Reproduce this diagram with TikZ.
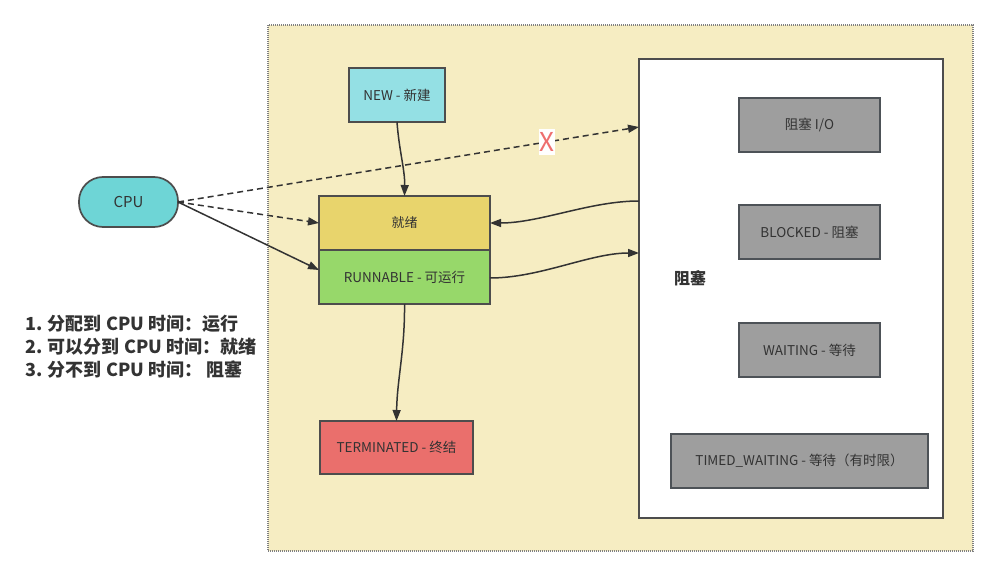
\documentclass[tikz,border=0pt]{standalone}
\usepackage{fontspec}
\setmainfont{Noto Sans CJK SC}
\usetikzlibrary{arrows.meta,calc}
\definecolor{txt}{HTML}{333333}
\definecolor{bord}{HTML}{4D4D4D}
\definecolor{contfill}{HTML}{F6EDC2}
\definecolor{newfill}{HTML}{94E0E4}
\definecolor{readyfill}{HTML}{E8D46C}
\definecolor{runfill}{HTML}{97D86A}
\definecolor{termfill}{HTML}{EA6F6C}
\definecolor{cpufill}{HTML}{6ED5D6}
\definecolor{grayfill}{HTML}{9E9E9E}
\definecolor{grayline}{HTML}{4D5257}
\definecolor{xred}{HTML}{EE6F6F}
\begin{document}
\begin{tikzpicture}[x=1pt,y=-1pt,
  state/.style={draw=bord, line width=1.7pt, inner sep=0pt, outer sep=0pt,
    text=txt, font=\fontsize{13.5}{15}\selectfont},
  grey/.style={state, fill=grayfill, draw=grayline},
  conn/.style={draw=txt, line width=1.5pt, -{Triangle[length=11pt,width=8pt]}},
  dconn/.style={conn, dash pattern=on 6pt off 4pt}]
\useasboundingbox (0,0) rectangle (998,577);
% container
\node[draw=gray, fill=contfill, line width=1.3pt, dash pattern=on 1pt off 1pt,
  minimum width=705pt, minimum height=526pt, inner sep=0pt, outer sep=0pt] (cont) at (620.5,288) {};
% big blocking box
\node[draw=bord, fill=white, line width=1.7pt, minimum width=304pt, minimum height=459pt,
  inner sep=0pt, outer sep=0pt] (big) at (791,288.5) {};
\node[text=txt, font=\fontsize{16}{18}\selectfont\bfseries] (blklabel) at (690,278) {阻塞};
% states
\node[state, fill=newfill, minimum width=96pt, minimum height=54pt] (new) at (397,95) {NEW - 新建};
\node[state, fill=readyfill, minimum width=171pt, minimum height=54pt,
  font=\fontsize{13}{15}\selectfont] (ready) at (404.5,223) {就绪};
\node[state, fill=runfill, minimum width=171pt, minimum height=54pt] (run) at (404.5,277) {RUNNABLE - 可运行};
\node[state, fill=termfill, minimum width=153pt, minimum height=53pt] (term) at (396.5,447.5) {TERMINATED - 终结};
\node[state, fill=cpufill, rounded corners=24pt, minimum width=99pt, minimum height=50pt,
  font=\fontsize{15}{17}\selectfont] (cpu) at (128.5,202) {CPU};
\node[grey, minimum width=141pt, minimum height=54pt] (io) at (809.5,125) {阻塞 I/O};
\node[grey, minimum width=141pt, minimum height=54pt] (blocked) at (809.5,232) {BLOCKED - 阻塞};
\node[grey, minimum width=141pt, minimum height=54pt] (waiting) at (809.5,350) {WAITING - 等待};
\node[grey, minimum width=257pt, minimum height=54pt] (timed) at (799.5,461) {TIMED\_WAITING - 等待（有时限）};
% notes
\node[anchor=north west, align=left, text=txt, inner sep=0pt,
  font=\fontsize{18}{23}\selectfont\bfseries] (notes) at (25,315) {1. 分配到 CPU 时间：运行\\2. 可以分到 CPU 时间：就绪\\3. 分不到 CPU 时间：\ 阻塞};
% connectors
\draw[conn] (new.south) .. controls (399,150) and (405,170) .. (ready.north);
\draw[conn] (run.south) .. controls (405,350) and (397,380) .. (term.north);
\draw[dconn] (cpu.east) -- (ready.west);
\draw[dconn] (cpu.east) -- ($(big.north west)+(0,68)$)
  node[pos=0.8, fill=white, text=xred, inner xsep=0.5pt, inner ysep=3pt,
    font=\fontsize{26}{28}\selectfont] (xmark) {X};
\draw[conn] (cpu.east) -- ($(run.north west)+(0,20)$);
\draw[conn] ($(big.north west)+(0,142)$) .. controls (590,201) and (540,223) .. (ready.east);
\draw[conn] ($(run.east)+(0,1)$) .. controls (540,278) and (590,253) .. ($(big.north west)+(0,194)$);
\end{tikzpicture}
\end{document}
